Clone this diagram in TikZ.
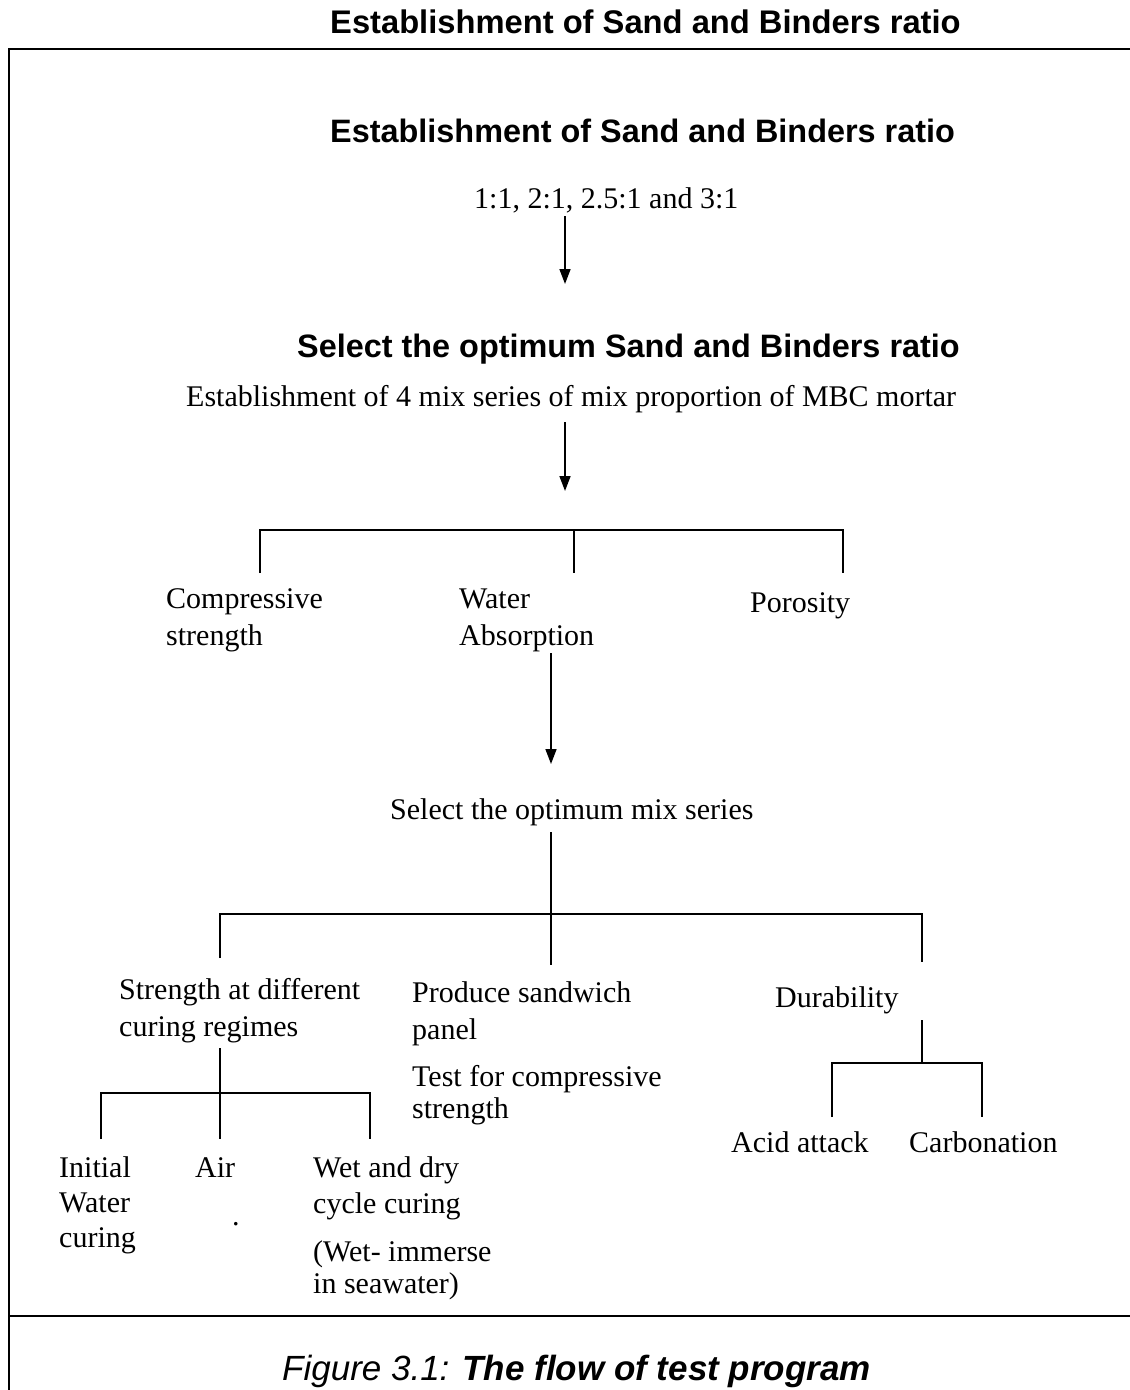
\documentclass[tikz,border=0pt]{standalone}
\usepackage{fontspec}
\setmainfont{Liberation Serif}
\newfontfamily\arialf{Liberation Sans}
\usetikzlibrary{arrows.meta}
\tikzset{
  txt/.style={inner sep=0pt, anchor=base west, align=left, font=\fontsize{30}{37}\selectfont},
  tight/.style={font=\fontsize{30}{32}\selectfont},
  hdr/.style={inner sep=0pt, anchor=base west, font=\arialf\bfseries\fontsize{32.4}{38}\selectfont},
  ln/.style={line width=1.6pt},
  frame/.style={line width=2pt},
  arr/.style={line width=1.6pt, -{Triangle[width=11pt,length=15pt]}}
}
\begin{document}
\begin{tikzpicture}[x=1pt,y=-1pt]
\useasboundingbox (0,0) rectangle (1130,1390);
% frame
\coordinate (fl) at (9,1390);
\coordinate (ftl) at (9,49);
\coordinate (ftr) at (1130,49);
\coordinate (fsl) at (9,1316);
\coordinate (fsr) at (1130,1316);
\draw[frame] (fl) -- (ftl) -- (ftr);
\draw[frame] (fsl) -- (fsr);
% header
\node[hdr, font=\arialf\bfseries\fontsize{32.7}{38}\selectfont] (title) at (330,33.5) {Establishment of Sand and Binders ratio};
% texts (multi-line nodes are placed by the baseline of their last line)
\node[hdr] (est) at (330,142) {Establishment of Sand and Binders ratio};
\node[txt] (ratios) at (474,208) {1:1, 2:1, 2.5:1 and 3:1};
\node[hdr] (sel) at (297,357) {Select the optimum Sand and Binders ratio};
\node[txt] (mix) at (186,406) {Establishment of 4 mix series of mix proportion of MBC mortar};
\node[txt] (comp) at (166,645) {Compressive\\strength};
\node[txt] (water) at (459,645) {Water\\Absorption};
\node[txt] (poro) at (750,612) {Porosity};
\node[txt] (selmix) at (390,819) {Select the optimum mix series};
\node[txt] (streng) at (119,1036) {Strength at different\\curing regimes};
\node[txt] (produce) at (412,1039) {Produce sandwich\\panel};
\node[txt, tight] (testc) at (412,1118) {Test for compressive\\strength};
\node[txt] (dura) at (775,1007) {Durability};
\node[txt] (acid) at (731,1152) {Acid attack};
\node[txt] (carb) at (909,1152) {Carbonation};
\node[txt, font=\fontsize{30}{35}\selectfont] (init) at (59,1247) {Initial\\Water\\curing};
\node[txt] (air) at (195,1177) {Air};
\node[txt] (dot) at (232,1225) {.};
\node[txt, font=\fontsize{30}{36}\selectfont] (wet) at (313,1213) {Wet and dry\\cycle curing};
\node[txt, tight] (imm) at (313,1293) {(Wet- immerse\\in seawater)};
\node[inner sep=0pt, anchor=base west, font=\arialf\fontsize{35}{40}\selectfont] (cap) at (282,1380)
  {\itshape Figure 3.1: \bfseries The flow of test program};
% connectors
\coordinate (a1s) at (565,216); \coordinate (a1e) at (565,284);
\draw[arr] (a1s) -- (a1e);
\coordinate (a2s) at (565,422); \coordinate (a2e) at (565,491);
\draw[arr] (a2s) -- (a2e);
\coordinate (t1l) at (260,573); \coordinate (t1r) at (843,530); \coordinate (t1rb) at (843,573);
\coordinate (t1m) at (574,530); \coordinate (t1mb) at (574,573);
\draw[ln] (t1l) |- (t1r) -- (t1rb);
\draw[ln] (t1m) -- (t1mb);
\coordinate (a3s) at (551,653); \coordinate (a3e) at (551,764);
\draw[arr] (a3s) -- (a3e);
\coordinate (t2m) at (551,832); \coordinate (t2mb) at (551,965);
\coordinate (t2l) at (220,958); \coordinate (t2r) at (922,914); \coordinate (t2rb) at (922,962);
\draw[ln] (t2m) -- (t2mb);
\draw[ln] (t2l) |- (t2r) -- (t2rb);
\coordinate (t3m) at (220,1048); \coordinate (t3mb) at (220,1139);
\coordinate (t3l) at (101,1139); \coordinate (t3r) at (370,1093); \coordinate (t3rb) at (370,1139);
\draw[ln] (t3m) -- (t3mb);
\draw[ln] (t3l) |- (t3r) -- (t3rb);
\coordinate (t4m) at (922,1020); \coordinate (t4mb) at (922,1063);
\coordinate (t4l) at (832,1117); \coordinate (t4r) at (982,1063); \coordinate (t4rb) at (982,1117);
\draw[ln] (t4m) -- (t4mb);
\draw[ln] (t4l) |- (t4r) -- (t4rb);
\end{tikzpicture}
\end{document}
